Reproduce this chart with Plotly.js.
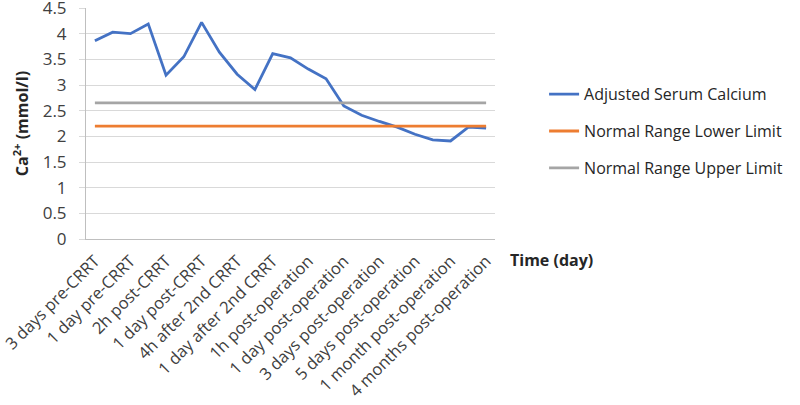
<!DOCTYPE html>
<html>
<head>
<meta charset="utf-8">
<script src="https://cdn.plot.ly/plotly-3.0.1.min.js"></script>
<style>html,body{margin:0;padding:0;background:#fff;}#chart{width:800px;height:405px;}</style>
</head>
<body>
<div id="chart"></div>
<script>
// 23 time points; only every other category is labelled on the axis
const pointIndex = [0,1,2,3,4,5,6,7,8,9,10,11,12,13,14,15,16,17,18,19,20,21,22];
const tickIndex = [0,2,4,6,8,10,12,14,16,18,20,22];
const tickLabels = ["3 days pre-CRRT","1 day pre-CRRT","2h post-CRRT","1 day post-CRRT","4h after 2nd CRRT","1 day after 2nd CRRT","1h post-operation","1 day post-operation","3 days post-operation","5 days post-operation","1 month post-operation","4 months post-operation"];
const calcium = [3.86,4.03,4.00,4.19,3.19,3.55,4.22,3.64,3.21,2.91,3.61,3.53,3.31,3.12,2.59,2.41,2.29,2.18,2.04,1.93,1.91,2.18,2.16];
const lowerLimit = [2.2,2.2,2.2,2.2,2.2,2.2,2.2,2.2,2.2,2.2,2.2,2.2,2.2,2.2,2.2,2.2,2.2,2.2,2.2,2.2,2.2,2.2,2.2];
const upperLimit = [2.65,2.65,2.65,2.65,2.65,2.65,2.65,2.65,2.65,2.65,2.65,2.65,2.65,2.65,2.65,2.65,2.65,2.65,2.65,2.65,2.65,2.65,2.65];

const FONT = "'Open Sans', sans-serif";
const traces = [
  {x: pointIndex, y: calcium, type: 'scatter', mode: 'lines', name: 'Adjusted Serum Calcium',
   legendgroup: 'a', line: {color: '#4472C4', width: 2.8}},
  {x: pointIndex, y: lowerLimit, type: 'scatter', mode: 'lines', name: 'Normal Range Lower Limit',
   legendgroup: 'b', line: {color: '#ED7D31', width: 2.8}},
  {x: pointIndex, y: upperLimit, type: 'scatter', mode: 'lines', name: 'Normal Range Upper Limit',
   legendgroup: 'c', line: {color: '#A5A5A5', width: 2.8}}
];
const layout = {
  width: 800, height: 405,
  margin: {l: 86, r: 305, t: 8, b: 166},
  paper_bgcolor: '#fff', plot_bgcolor: '#fff',
  font: {family: FONT, color: '#404040', size: 16},
  showlegend: true,
  legend: {x: 1.12, y: 0.70, xanchor: 'left', yanchor: 'top', traceorder: 'grouped',
           font: {family: FONT, size: 16, color: '#262626'}, tracegroupgap: 13,
           itemwidth: 30, bgcolor: 'rgba(0,0,0,0)'},
  xaxis: {range: [-0.5, 22.5], tickvals: tickIndex, ticktext: tickLabels, tickangle: -45,
          showgrid: false, zeroline: false, showline: true, linecolor: '#BFBFBF', linewidth: 1,
          ticks: '', ticklabeloverflow: 'allow', ticklabelstandoff: 5,
          tickfont: {family: FONT, size: 16.5, color: '#404040'}, fixedrange: true},
  yaxis: {range: [0, 4.5], dtick: 0.5, tick0: 0, showgrid: true, gridcolor: '#D9D9D9', gridwidth: 1,
          zeroline: false, showline: true, linecolor: '#BFBFBF', linewidth: 1,
          ticks: 'outside', ticklen: 6, tickcolor: '#D9D9D9', ticklabeloverflow: 'allow',
          ticklabelstandoff: 9,
          tickfont: {family: FONT, size: 17, color: '#404040'},
          title: {text: '<b>Ca<sup>2+</sup> (mmol/l)</b>', font: {family: FONT, size: 16, color: '#262626'}, standoff: 10}},
  annotations: [
    {text: '<b>Time (day)</b>', xref: 'paper', yref: 'paper', x: 1.032, y: -0.09, xanchor: 'left', yanchor: 'middle',
     showarrow: false, font: {family: FONT, size: 16, color: '#262626'}}
  ]
};
Plotly.newPlot('chart', traces, layout, {displayModeBar: false, staticPlot: true});
</script>
</body>
</html>
